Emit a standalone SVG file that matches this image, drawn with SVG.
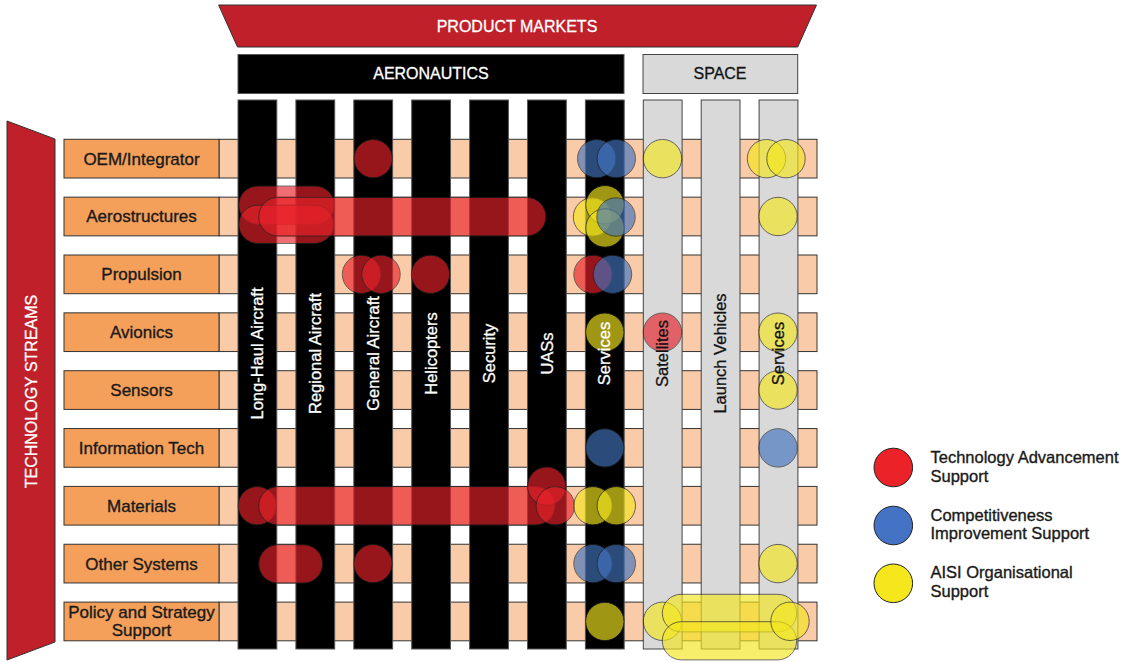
<svg xmlns="http://www.w3.org/2000/svg" width="1129" height="662" viewBox="0 0 1129 662">
<style>
text{font-family:"Liberation Sans",Arial,sans-serif;}
.hdr{font-size:16px;text-anchor:middle;stroke-width:0.3;}
.lbl{font-size:17px;fill:#1a1a1a;stroke:#1a1a1a;stroke-width:0.35;text-anchor:middle;}
.col{font-size:16.5px;text-anchor:middle;stroke-width:0.3;}
.leg{font-size:16.5px;fill:#1a1a1a;stroke:#1a1a1a;stroke-width:0.35;}
.wt{fill:#fff;stroke:#fff;}
.dk{fill:#111;stroke:#111;}
.band{fill:#FACBA8;stroke:#333;stroke-width:1;}
.box{fill:#F5A05A;stroke:#333;stroke-width:1;}
.bk{fill:#000;stroke:#555;stroke-width:1;}
.gy{fill:#D9D9D9;stroke:#444;stroke-width:1;}
.r{fill:#E8222A;stroke:#222;stroke-width:1;opacity:.65;}
.b{fill:#4273BE;stroke:#222;stroke-width:1;opacity:.65;}
.y{fill:#F4E61E;stroke:#222;stroke-width:1;opacity:.65;}
</style>

<g id="banner-product-markets">
<polygon points="218.6,5 816.5,5 797.7,47 237.5,47" fill="#C0202A" stroke="#333" stroke-width="1"/>
<text class="hdr wt" x="517" y="31.5">PRODUCT MARKETS</text>
</g>
<g id="banner-technology-streams">
<polygon points="7,121 55,139 55,642 7,660" fill="#C0202A" stroke="#333" stroke-width="1"/>
<text class="hdr wt" transform="translate(36.5,391.5) rotate(-90)">TECHNOLOGY STREAMS</text>
</g>
<g id="hdr-aeronautics">
<rect x="238" y="54.5" width="386" height="39" class="bk"/>
<text class="hdr wt" x="431" y="79">AERONAUTICS</text>
</g>
<g id="hdr-space">
<rect x="643" y="54.5" width="154.7" height="39" class="gy"/>
<text class="hdr dk" x="720" y="79">SPACE</text>
</g>

<g id="bands">
<rect x="219" y="139.3" width="598" height="38.7" class="band"/>
<rect x="219" y="197.15" width="598" height="38.7" class="band"/>
<rect x="219" y="255" width="598" height="38.7" class="band"/>
<rect x="219" y="312.85" width="598" height="38.7" class="band"/>
<rect x="219" y="370.7" width="598" height="38.7" class="band"/>
<rect x="219" y="428.55" width="598" height="38.7" class="band"/>
<rect x="219" y="486.4" width="598" height="38.7" class="band"/>
<rect x="219" y="544.25" width="598" height="38.7" class="band"/>
<rect x="219" y="602.1" width="598" height="38.7" class="band"/>
</g>

<g id="row-oem"><rect x="64" y="139.3" width="155" height="38.7" class="box"/><text class="lbl" x="141.5" y="164.6">OEM/Integrator</text></g>
<g id="row-aerostructures"><rect x="64" y="197.15" width="155" height="38.7" class="box"/><text class="lbl" x="141.5" y="222.4">Aerostructures</text></g>
<g id="row-propulsion"><rect x="64" y="255" width="155" height="38.7" class="box"/><text class="lbl" x="141.5" y="280.3">Propulsion</text></g>
<g id="row-avionics"><rect x="64" y="312.85" width="155" height="38.7" class="box"/><text class="lbl" x="141.5" y="338.1">Avionics</text></g>
<g id="row-sensors"><rect x="64" y="370.7" width="155" height="38.7" class="box"/><text class="lbl" x="141.5" y="396">Sensors</text></g>
<g id="row-infotech"><rect x="64" y="428.55" width="155" height="38.7" class="box"/><text class="lbl" x="141.5" y="453.8">Information Tech</text></g>
<g id="row-materials"><rect x="64" y="486.4" width="155" height="38.7" class="box"/><text class="lbl" x="141.5" y="511.7">Materials</text></g>
<g id="row-other"><rect x="64" y="544.25" width="155" height="38.7" class="box"/><text class="lbl" x="141.5" y="569.5">Other Systems</text></g>
<g id="row-policy"><rect x="64" y="602.1" width="155" height="38.7" class="box"/><text class="lbl" x="141.5" y="618.3">Policy and Strategy</text><text class="lbl" x="141.5" y="635.5">Support</text></g>

<g id="columns">
<rect id="col-longhaul" x="238" y="100" width="38.8" height="549" class="bk"/>
<rect id="col-regional" x="295.9" y="100" width="38.8" height="549" class="bk"/>
<rect id="col-general" x="353.8" y="100" width="38.8" height="549" class="bk"/>
<rect id="col-helicopters" x="411.7" y="100" width="38.8" height="549" class="bk"/>
<rect id="col-security" x="469.6" y="100" width="38.8" height="549" class="bk"/>
<rect id="col-uas" x="527.5" y="100" width="38.8" height="549" class="bk"/>
<rect id="col-aero-services" x="585.4" y="100" width="38.8" height="549" class="bk"/>
<rect id="col-satellites" x="643.3" y="100" width="38.8" height="549" class="gy"/>
<rect id="col-launch" x="701.2" y="100" width="38.8" height="549" class="gy"/>
<rect id="col-space-services" x="759.1" y="100" width="38.8" height="549" class="gy"/>
</g>

<g id="markers">
<circle class="r" cx="373.2" cy="158.65" r="19.2"/>
<circle class="b" cx="596.7" cy="158.65" r="19.2"/>
<circle class="b" cx="616.3" cy="158.65" r="19.2"/>
<circle class="y" cx="662.5" cy="158.65" r="19.2"/>
<circle class="y" cx="766.5" cy="158.65" r="19.2"/>
<circle class="y" cx="786" cy="158.65" r="19.2"/>
<rect class="r" x="238.7" y="186" width="95.6" height="38.3" rx="19.1"/>
<rect class="r" x="238.7" y="205.2" width="95" height="38.3" rx="19.1"/>
<rect class="r" x="258.7" y="197.4" width="287.3" height="38.6" rx="19.3"/>
<circle class="y" cx="592.5" cy="217" r="19.2"/>
<circle class="y" cx="605" cy="204.7" r="19.2"/>
<circle class="y" cx="605" cy="228" r="19.2"/>
<circle class="b" cx="616" cy="217" r="19.2"/>
<circle class="y" cx="778" cy="216.5" r="19.2"/>
<circle class="r" cx="361.5" cy="274.35" r="19.2"/>
<circle class="r" cx="381" cy="274.35" r="19.2"/>
<circle class="r" cx="430.5" cy="274.35" r="19.2"/>
<circle class="r" cx="593" cy="274.35" r="19.2"/>
<circle class="b" cx="612.5" cy="274.35" r="19.2"/>
<circle class="y" cx="604.8" cy="332.2" r="19.2"/>
<circle class="r" cx="662.5" cy="332.2" r="19.2"/>
<circle class="y" cx="778" cy="332.2" r="19.2"/>
<circle class="y" cx="778" cy="390.05" r="19.2"/>
<circle class="b" cx="604.8" cy="447.9" r="19.2"/>
<circle class="b" cx="778" cy="447.9" r="19.2"/>
<circle class="r" cx="257.3" cy="505.75" r="19.2"/>
<rect class="r" x="258.7" y="486.6" width="296.3" height="38.4" rx="19.2"/>
<circle class="r" cx="546.7" cy="486.2" r="19.2"/>
<circle class="r" cx="555.3" cy="505.8" r="19.2"/>
<circle class="y" cx="593" cy="505.75" r="19.2"/>
<circle class="y" cx="616.3" cy="505.75" r="19.2"/>
<rect class="r" x="258.7" y="544.7" width="64" height="38.4" rx="19.2"/>
<circle class="r" cx="373" cy="563.6" r="19.2"/>
<circle class="b" cx="593" cy="563.6" r="19.2"/>
<circle class="b" cx="616.3" cy="563.6" r="19.2"/>
<circle class="y" cx="778" cy="563.6" r="19.2"/>
<circle class="y" cx="604.8" cy="621.45" r="19.2"/>
<circle class="y" cx="662.5" cy="621.3" r="19.2"/>
<rect class="y" x="662.3" y="594.3" width="134.4" height="37.6" rx="18.8"/>
<rect class="y" x="662.3" y="621.7" width="134.4" height="38.2" rx="19.1"/>
<circle class="y" cx="790" cy="621.3" r="19.2"/>
</g>

<g id="column-labels">
<text class="col wt" transform="translate(263,353.5) rotate(-90)">Long-Haul Aircraft</text>
<text class="col wt" transform="translate(320.9,353.5) rotate(-90)">Regional Aircraft</text>
<text class="col wt" transform="translate(378.8,353.5) rotate(-90)">General Aircraft</text>
<text class="col wt" transform="translate(436.7,353.5) rotate(-90)">Helicopters</text>
<text class="col wt" transform="translate(494.6,353.5) rotate(-90)">Security</text>
<text class="col wt" transform="translate(552.5,353.5) rotate(-90)">UASs</text>
<text class="col wt" transform="translate(610.4,353.5) rotate(-90)">Services</text>
<text class="col dk" transform="translate(668.3,353.5) rotate(-90)">Satellites</text>
<text class="col dk" transform="translate(726.2,353.5) rotate(-90)">Launch Vehicles</text>
<text class="col dk" transform="translate(784.1,353.5) rotate(-90)">Services</text>
</g>

<g id="legend">
<circle cx="893.3" cy="467.5" r="19.3" fill="#EB2328" stroke="#222" stroke-width="1"/>
<text class="leg" x="930.5" y="463.3">Technology Advancement</text>
<text class="leg" x="930.5" y="481.7">Support</text>
<circle cx="893.3" cy="525.5" r="19.3" fill="#4472C4" stroke="#222" stroke-width="1"/>
<text class="leg" x="930.5" y="520.7">Competitiveness</text>
<text class="leg" x="930.5" y="539.3">Improvement Support</text>
<circle cx="893.3" cy="583.3" r="19.3" fill="#F5E71C" stroke="#222" stroke-width="1"/>
<text class="leg" x="930.5" y="578">AISI Organisational</text>
<text class="leg" x="930.5" y="596.7">Support</text>
</g>
</svg>
